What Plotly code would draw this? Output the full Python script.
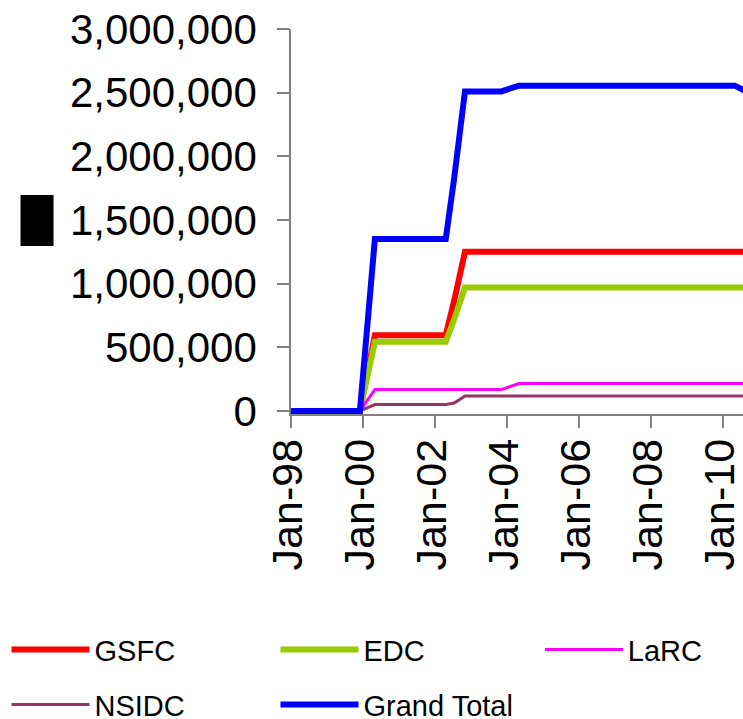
import plotly.graph_objects as go

# ---- data ----
dates = ["1998-01-01", "1999-12-01", "2000-05-01", "2002-04-20", "2002-07-15",
         "2002-11-01", "2003-11-05", "2004-05-01", "2010-05-01", "2010-11-01"]
gsfc = [0, 0, 595000, 595000, 867000, 1250000, 1250000, 1250000, 1250000, 1250000]
edc = [0, 0, 543000, 543000, 721000, 970000, 970000, 970000, 970000, 970000]
larc = [0, 0, 168000, 168000, 168000, 168000, 168000, 215000, 215000, 215000]
nsidc = [0, 0, 50000, 50000, 62000, 118000, 118000, 118000, 118000, 118000]
grand_total = [0, 0, 1350000, 1350000, 1830000, 2510000, 2510000, 2555000, 2555000, 2480000]

series_names = ["GSFC", "EDC", "LaRC", "NSIDC", "Grand Total"]
x_tick_vals = ["1998-01-01", "2000-01-01", "2002-01-01", "2004-01-01",
               "2006-01-01", "2008-01-01", "2010-01-01"]
y_tick_vals = [0, 500000, 1000000, 1500000, 2000000, 2500000, 3000000]

# ---- layout geometry (pixels) ----
W, H = 743, 719
L, T = 291.3, 29.3
y_lo, y_hi = -24000, 3000000
plot_h = 381.4 * (y_hi - y_lo) / 3000000
B = H - T - plot_h
plot_w = W - L

def px_x(px):
    return (px - L) / plot_w

def px_y(py):
    return (H - B - py) / plot_h

FONT = "Liberation Sans, Arial, sans-serif"

styles = [
    dict(color="#FF0000", width=6),
    dict(color="#99CC00", width=6),
    dict(color="#FF00FF", width=3),
    dict(color="#993366", width=3),
    dict(color="#0000FF", width=6),
]
values = [gsfc, edc, larc, nsidc, grand_total]
legends = ["legend", "legend", "legend3", "legend2", "legend2"]

fig = go.Figure()
for name, vals, st, lg in zip(series_names, values, styles, legends):
    fig.add_trace(go.Scatter(x=dates, y=vals, mode="lines", name=name,
                             line=dict(color=st["color"], width=st["width"]),
                             legend=lg))

legend_common = dict(
    orientation="h", xanchor="left", yanchor="middle",
    font=dict(family=FONT, size=29, color="black"),
    bgcolor="rgba(0,0,0,0)", borderwidth=0,
    itemwidth=78, entrywidth=176, entrywidthmode="pixels",
    traceorder="normal",
)

fig.update_layout(
    width=W, height=H,
    margin=dict(l=L, r=0, t=T, b=B, pad=0, autoexpand=False),
    paper_bgcolor="white", plot_bgcolor="white",
    font=dict(family=FONT, color="black"),
    showlegend=True,
    legend=dict(x=px_x(7), y=px_y(649), **legend_common),
    legend3=dict(x=px_x(540), y=px_y(649), **legend_common),
    legend2=dict(x=px_x(7), y=px_y(704), **legend_common),
    xaxis=dict(
        type="date",
        range=["1998-01-01", "2010-07-23"],
        tickvals=x_tick_vals, tickformat="%b-%y", tickangle=-90,
        ticks="outside", ticklen=12, tickwidth=1.5, tickcolor="#808080",
        showline=True, linecolor="#808080", linewidth=1.5,
        showgrid=False, zeroline=False, layer="below traces",
        tickfont=dict(family=FONT, size=43, color="black"),
        ticklabelstandoff=-6, ticklabelshift=-3,
        automargin=False, ticklabeloverflow="allow",
    ),
    yaxis=dict(
        range=[y_lo, y_hi], tickvals=y_tick_vals,
        tickformat=",d",
        ticks="outside", ticklen=12, tickwidth=1.5, tickcolor="#808080",
        showline=True, linecolor="#808080", linewidth=1.5,
        showgrid=False, zeroline=False, layer="below traces",
        tickfont=dict(family=FONT, size=42, color="black"),
        ticklabelstandoff=12, automargin=False,
    ),
    shapes=[dict(type="rect", xref="paper", yref="paper",
                 x0=px_x(21), x1=px_x(54), y0=px_y(246), y1=px_y(195),
                 fillcolor="black", line=dict(width=0))],
)

fig.write_html(
    "out.html",
    config={"displayModeBar": False},
    post_script="document.body.style.margin='0';document.body.style.overflow='hidden';",
)
